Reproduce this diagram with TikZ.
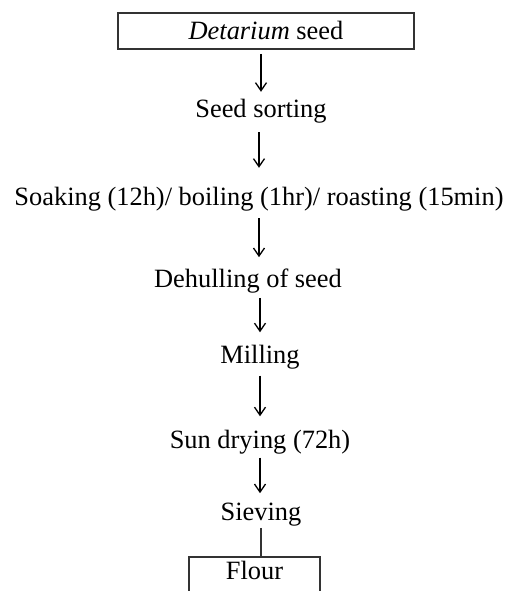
\documentclass[tikz,border=0pt]{standalone}
\usepackage{fontspec}
\setmainfont{Liberation Serif}
\usetikzlibrary{arrows.meta}

\begin{document}
\begin{tikzpicture}[x=1pt,y=1pt,
    font=\fontsize{26.4}{30}\selectfont,
    stage/.style={inner sep=0pt},
    stepbox/.style={draw=black!80,line width=1.8pt,inner sep=0pt},
    flow/.style={-{Straight Barb[length=8pt,width=11pt]},line width=1.3pt}]
        %
        \useasboundingbox (0,0) rectangle (509,591);
        \clip (0,0) rectangle (509,591);
        %
        \node[stepbox,minimum width=296pt,minimum height=36pt] (seed) at (266,560) {\textit{Detarium} seed};
        \node[stage] (sort) at (261,480) {Seed sorting};
        \node[stage] (soak) at (259,392) {Soaking (12h)/ boiling (1hr)/ roasting (15min)};
        \node[stage] (dehull) at (248,309.5) {Dehulling of seed};
        \node[stage] (mill) at (260,233.5) {Milling};
        \node[stage] (sun) at (260,148.5) {Sun drying (72h)};
        \node[stage] (sieve) at (261,76) {Sieving};
        \node[stepbox,anchor=base,minimum width=131pt,text height=18.5pt,text depth=30pt,inner ysep=4.5pt] (flour) at (254.5,11) {Flour};
        %
        \draw[flow,shorten <=4pt,shorten >=7pt] (seed.south -| sort.north) -- (sort.north);
        \draw[flow,shorten <=9pt,shorten >=19pt] (soak.north |- sort.south) -- (soak.north);
        \draw[flow,shorten <=7pt,shorten >=12pt] (soak.south) -- (soak.south |- dehull.north);
        \draw[flow,shorten <=4pt,shorten >=13pt] (mill.north |- dehull.south) -- (mill.north);
        \draw[flow,shorten <=6pt,shorten >=14pt] (mill.south) -- (mill.south |- sun.north);
        \draw[flow,shorten <=3pt,shorten >=10pt] (sun.south) -- (sun.south |- sieve.north);
        \draw[line width=1.3pt,black!80,shorten <=1pt] (sieve.south) -- (sieve.south |- flour.north);
      \end{tikzpicture}
\end{document}
